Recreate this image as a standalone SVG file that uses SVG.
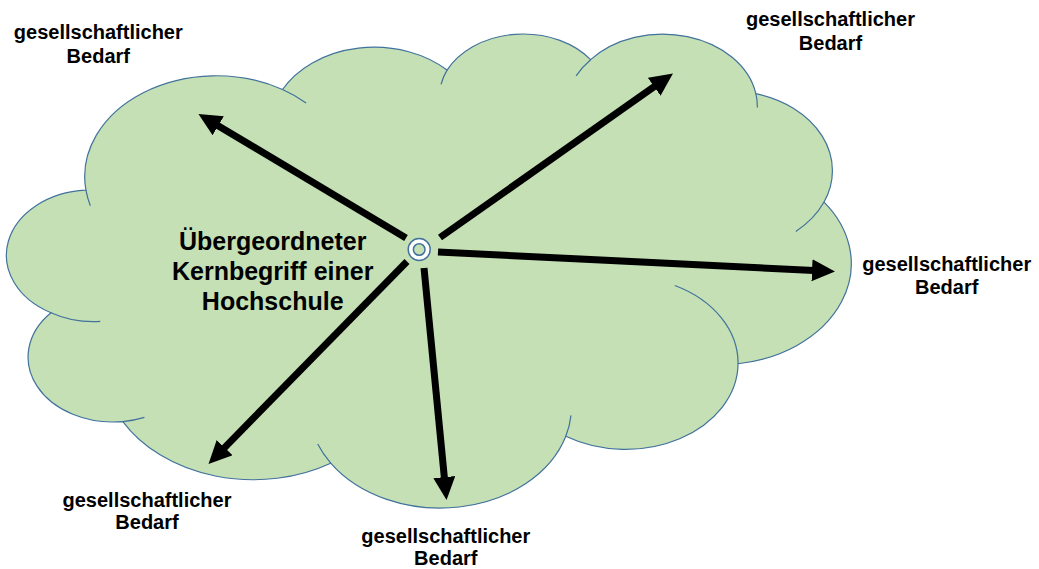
<svg xmlns="http://www.w3.org/2000/svg" width="1039" height="569" viewBox="0 0 1039 569">
  <style>
    .cloud { fill: #C5E0B4; stroke: #41719C; stroke-width: 1.2; vector-effect: non-scaling-stroke; }
    .tail { fill: none; stroke: #41719C; stroke-width: 1.2; vector-effect: non-scaling-stroke; }
    .lbl { font-family: "Liberation Sans", Arial, sans-serif; font-weight: bold; font-size: 20px; fill: #000; text-anchor: middle; }
    .title { font-family: "Liberation Sans", Arial, sans-serif; font-weight: bold; font-size: 25px; fill: #000; text-anchor: middle; }
    .arrow { stroke: #000; stroke-width: 7; fill: none; marker-end: url(#head); }
    .ring { stroke: #41719C; stroke-width: 1.5; }
  </style>
  <defs>
    <marker id="head" markerUnits="userSpaceOnUse" markerWidth="24" markerHeight="23" refX="7" refY="11" orient="auto">
      <path d="M0,0 L23,11 L0,22 Z" fill="#000"/>
    </marker>
  </defs>

  <g id="cloud" transform="translate(10,32.5) scale(0.019468,0.01097)">
    <path class="cloud" d="M3900 14370 A6753 9190 0 0 1 13999 5198 A5333 7267 0 0 1 22450 3427 A4365 5945 0 0 1 29827 2477 A4857 6595 0 0 1 38312 5573 A5333 7273 0 0 1 41813 15457 A6775 9220 0 0 1 37397 30198 A5785 7867 0 0 1 28549 36809 A6752 9215 0 0 1 16474 39260 A7720 10543 0 0 1 5797 35464 A4360 5918 0 0 1 2105 25543 A4345 5945 0 0 1 3900 14370 Z"/>
    <path class="tail" d="M4127 15789 A6753 9190 0 0 1 3900 14370 M13999 5198 A6753 9190 0 0 1 15210 6427 M22141 4720 A4365 5945 0 0 1 22450 3427 M29078 3952 A4857 6595 0 0 1 29827 2477 M38312 5573 A4857 6595 0 0 1 38388 6837 M41813 15457 A5333 7273 0 0 1 40365 18132 M34147 23063 A5785 7867 0 0 1 37397 30198 M28816 34899 A6752 9215 0 0 1 28549 36809 M16474 39260 A6752 9215 0 0 1 15806 37520 M6905 35082 A4360 5918 0 0 1 5797 35464 M4639 26340 A4345 5945 0 0 1 2105 25543"/>
  </g>

  <g id="center-text">
    <text class="title" x="272.7" y="250">Übergeordneter</text>
    <text class="title" x="272.7" y="280">Kernbegriff einer</text>
    <text class="title" x="272.7" y="310">Hochschule</text>
  </g>

  <g id="connectors">
    <line class="arrow" x1="406" y1="238" x2="212.2" y2="122.2"/>
    <line class="arrow" x1="440" y1="237.5" x2="659.9" y2="82.7"/>
    <line class="arrow" x1="438" y1="252" x2="819" y2="270.7"/>
    <line class="arrow" x1="407" y1="261.5" x2="219.7" y2="452.6"/>
    <line class="arrow" x1="424" y1="268" x2="445" y2="484.1"/>
  </g>

  <g id="hub">
    <circle class="ring" cx="419.2" cy="249.5" r="11" fill="#FFFFFF"/>
    <circle class="ring" cx="419.2" cy="249.5" r="5.8" fill="#C5E0B4"/>
  </g>

  <g id="label-top-left">
    <text class="lbl" x="98.3" y="39.3">gesellschaftlicher</text>
    <text class="lbl" x="98.3" y="63.3">Bedarf</text>
  </g>
  <g id="label-top-right">
    <text class="lbl" x="830.5" y="26">gesellschaftlicher</text>
    <text class="lbl" x="830.5" y="50">Bedarf</text>
  </g>
  <g id="label-right">
    <text class="lbl" x="946.7" y="270.7">gesellschaftlicher</text>
    <text class="lbl" x="946.7" y="294">Bedarf</text>
  </g>
  <g id="label-bottom-left">
    <text class="lbl" x="147" y="506.7">gesellschaftlicher</text>
    <text class="lbl" x="147" y="529.3">Bedarf</text>
  </g>
  <g id="label-bottom">
    <text class="lbl" x="445.8" y="542.7">gesellschaftlicher</text>
    <text class="lbl" x="445.8" y="565">Bedarf</text>
  </g>
</svg>
